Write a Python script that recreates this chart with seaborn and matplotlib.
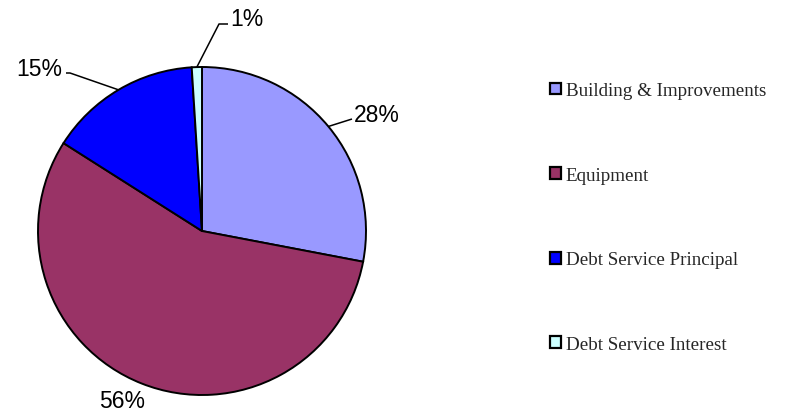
import numpy as np
import matplotlib
matplotlib.use("Agg")
import matplotlib.pyplot as plt
import seaborn as sns

categories = ["Building & Improvements", "Equipment",
              "Debt Service Principal", "Debt Service Interest"]
shares = [28, 56, 15, 1]
colors = ["#9999FF", "#993366", "#0000FF", "#CCFFFF"]

sns.set_theme(style="white")
plt.rcParams["font.family"] = ["Liberation Sans", "DejaVu Sans"]

W, H = 787, 414
fig = plt.figure(figsize=(W / 100, H / 100), dpi=100)
ax = fig.add_axes([0, 0, 1, 1])

cx, cy, r = 202, H - 232, 164
wedges, _ = ax.pie(shares, colors=colors, startangle=90, counterclock=False,
                   center=(cx, cy), radius=r, frame=False,
                   wedgeprops=dict(edgecolor="black", linewidth=1.4))
ax.set_xlim(0, W)
ax.set_ylim(0, H)
ax.set_aspect("equal", adjustable="box")
ax.axis("off")

# Percentage labels: (text position, elbow point or None, horizontal alignment)
label_layout = [
    ((354, H - 116), (352, H - 120), "left"),
    ((122, H - 402), None, "center"),
    ((62, H - 70), (70, H - 74), "right"),
    ((230, H - 19), (219, H - 25), "left"),
]
for w, val, (tpos, elbow, ha) in zip(wedges, shares, label_layout):
    mid = np.deg2rad((w.theta1 + w.theta2) / 2)
    ex, ey = cx + r * np.cos(mid), cy + r * np.sin(mid)
    if elbow is not None:
        tx = tpos[0] - 2 if ha == "left" else tpos[0] + 4
        ax.plot([ex, elbow[0], tx], [ey, elbow[1], elbow[1]],
                color="black", linewidth=1.1, solid_capstyle="butt")
    ax.text(tpos[0], tpos[1], f"{val}%", ha=ha, va="center",
            fontsize=16.5, color="black")

leg = fig.legend(wedges, categories, loc="center left",
                 bbox_to_anchor=(0.677, 0.472), frameon=False,
                 prop={"family": "Liberation Serif", "size": 13.7},
                 handlelength=0.58, handleheight=0.58, handletextpad=0.25,
                 labelspacing=3.55)
for h in leg.legend_handles:
    h.set_linewidth(1.6)
    h.set_edgecolor("black")

fig.savefig("out.png", dpi=100, facecolor="white")
